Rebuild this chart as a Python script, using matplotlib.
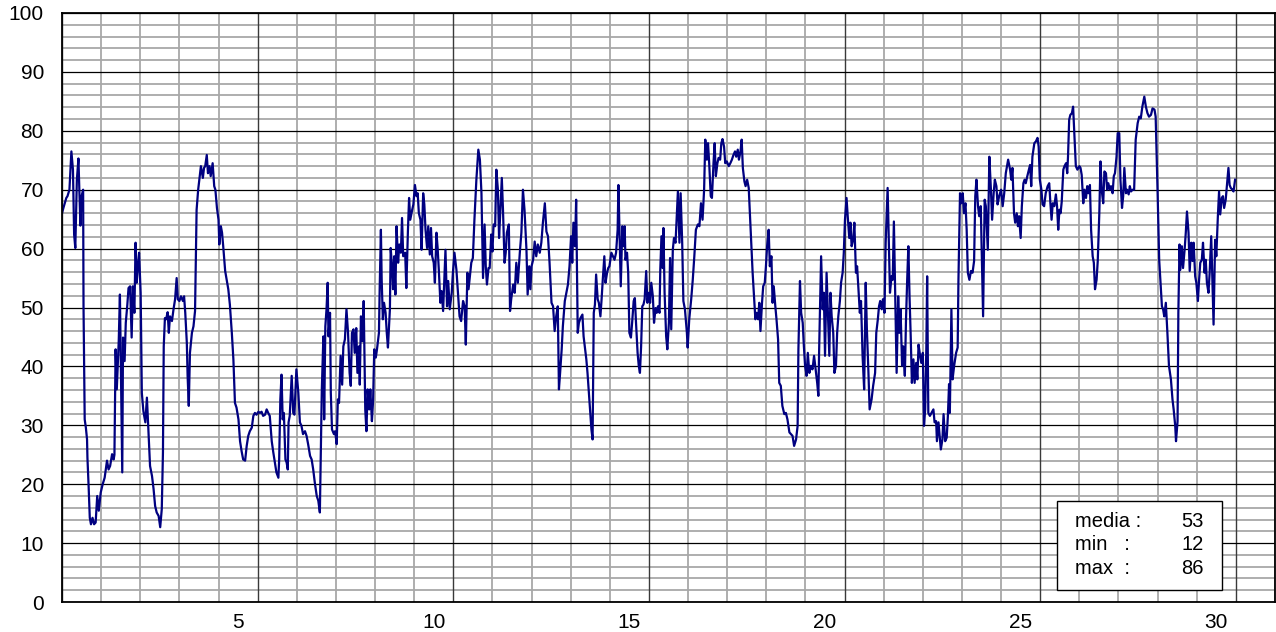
import numpy as np
import matplotlib.pyplot as plt
from matplotlib.patches import Rectangle

plt.rcParams['font.family'] = ['Liberation Sans', 'DejaVu Sans']

# readings (day, value), in three stretches
readings_a = [(0.00,66),(0.04,67),(0.11,68.6),(0.14,68.9),(0.19,70),(0.24,76.5),(0.28,73.4),(0.31,62.4),(0.34,60.1),(0.38,71.7),(0.42,75.3),(0.44,70.6),(0.47,63.9),(0.50,68.9),(0.54,70),(0.55,50.2),(0.58,31),(0.61,29.6),(0.64,27.6),(0.65,24.5),(0.68,19.7),(0.71,14.3),(0.74,13.2),(0.78,14.3),(0.82,13.2),(0.86,13.5),(0.90,18),(0.94,15.5),(0.99,18.6),(1.04,20),(1.09,21.1),(1.15,24),(1.19,22.5),(1.23,23.1),(1.28,25.1),(1.32,24.2),(1.34,25),(1.37,42.9),(1.40,36.1),(1.45,44.3),(1.48,52.2),(1.51,36.7),(1.54,22),(1.56,44.9),(1.60,40.9),(1.63,47.4),(1.67,50.5),(1.70,53.3),(1.74,53.6),(1.78,44.9),(1.81,53.6),(1.85,49.1),(1.88,61),(1.91,54.2),(1.94,57),(1.97,59.3),(2.01,52.5),(2.04,35.5),(2.08,32.4),(2.13,30.5),(2.17,34.7),(2.21,28.8),(2.25,23.1),(2.30,21.4),(2.34,19.2),(2.38,16.3),(2.42,15.2),(2.47,14.6),(2.51,12.7),(2.55,15.8),(2.58,25.4),(2.60,43.4),(2.63,48.2),(2.66,48),(2.70,49.2),(2.73,45.7),(2.76,48.5),(2.81,47.7),(2.85,49.7),(2.89,51.4),(2.93,55),(2.96,51.4),(3.00,51.1),(3.04,51.9),(3.09,51.1),(3.12,51.9),(3.15,49.1),(3.19,44),(3.21,38.4),(3.24,33.3),(3.27,42.3),(3.32,45.7),(3.36,46.8),(3.40,49.4),(3.44,66.6),(3.48,70),(3.51,71.7),(3.55,74),(3.60,72),(3.63,73.7),(3.66,74),(3.70,75.9),(3.73,72.8),(3.77,74),(3.80,72.3),(3.85,74.5),(3.89,70.6),(3.92,70),(3.96,66.9),(4.00,64.9),(4.02,60.7),(4.06,63.8),(4.09,62.7),(4.12,60.4),(4.17,56.2),(4.21,54.7),(4.25,53.1),(4.29,50.5),(4.34,45.7),(4.38,41.2),(4.42,33.8),(4.46,33),(4.51,31),(4.55,27.3),(4.59,25.6),(4.63,24.2),(4.68,24),(4.72,26.5),(4.76,28.2),(4.80,29),(4.85,29.6),(4.89,31.6),(4.93,32.1),(4.97,31.8),(5.02,32.3),(5.06,32.1),(5.10,32.3),(5.14,31.6),(5.19,31.8),(5.23,32.7),(5.27,32.1),(5.31,31.6),(5.36,27.3),(5.40,25.4),(5.44,23.7),(5.48,22),(5.53,21.1),(5.55,24.2),(5.58,34.4),(5.61,38.6),(5.64,31),(5.67,32.1),(5.71,24.2),(5.74,23.7),(5.77,22.5),(5.79,30.5),(5.82,31.6),(5.87,38.4),(5.91,32.1),(5.94,31.8),(5.99,39.5),(6.04,35.5),(6.08,30.5),(6.12,29.9),(6.16,28.5),(6.21,29),(6.25,28.2),(6.29,26.8),(6.34,24.8),(6.38,24.2),(6.42,22.5),(6.46,20.3),(6.51,18),(6.55,17.2),(6.59,15.2),(6.62,27.1),(6.64,36.1),(6.68,45.1),(6.70,31),(6.73,46.8),(6.76,49.7),(6.79,54.2),(6.81,45.1),(6.85,49.1),(6.87,35.5),(6.90,29.3),(6.95,28.5),(6.98,29),(7.02,26.8),(7.05,34.4),(7.08,33.8),(7.12,41.8),(7.16,36.9),(7.19,43.4),(7.23,44.6),(7.27,49.7),(7.31,45.7),(7.35,38.9),(7.38,36.7),(7.41,45.7),(7.45,46.3),(7.48,42.3),(7.52,46.5),(7.55,38.9),(7.59,43.4),(7.61,36.9),(7.64,48.5),(7.68,44.3),(7.71,51.1),(7.75,32.7),(7.78,29),(7.81,36.1),(7.85,32.7),(7.88,36.1),(7.92,30.7),(7.95,34.1),(7.98,42.9),(8.02,41.5),(8.05,42.9),(8.10,45.7),(8.12,53.6),(8.15,63.2),(8.17,54.7),(8.20,48),(8.23,50.8),(8.27,49.1),(8.30,45.7),(8.33,43.2),(8.38,49.7),(8.40,60.1),(8.44,56.4),(8.46,53.1),(8.49,58.7),(8.52,52.2),(8.55,63.8),(8.59,57.6),(8.62,60.7),(8.66,59.3),(8.69,65.2),(8.72,58.7),(8.77,59.3),(8.80,53.3),(8.84,62.9),(8.87,68.6),(8.90,64.9),(8.95,66.6),(8.98,67.5),(9.02,70.8),(9.06,68.9),(9.09,69.4),(9.12,66),(9.16,64.9),(9.19,59.8),(9.23,69.4),(9.26,67.5),(9.29,63.2),(9.33,60.1),(9.36,63.8),(9.40,59),(9.43,63.5),(9.46,58.7),(9.50,57.6),(9.53,54.2),(9.57,62.7),(9.60,60.1),(9.63,56.4),(9.67,50.8),(9.70,52.8),(9.74,49.4),(9.77,54.7),(9.80,59.8),(9.84,50.2),(9.87,54.5),(9.91,49.7),(9.96,52.5),(9.99,55.9),(10.03,59.3),(10.08,56.4),(10.12,52.5),(10.16,48.5),(10.20,47.7),(10.25,51.1),(10.29,50.2),(10.32,43.7),(10.36,55.9),(10.39,53.1),(10.43,55.6),(10.46,57.6),(10.50,58.4),(10.54,64.9),(10.59,71.7),(10.64,76.8)]

readings_b = [(10.68,75.1),(10.72,69.4),(10.76,55),(10.80,64.1),(10.83,57),(10.86,53.9),(10.90,56.7),(10.93,56.7),(10.97,62.4),(11.00,59.5),(11.03,64.1),(11.07,63.8),(11.10,73.4),(11.14,70),(11.17,61.8),(11.20,66),(11.24,72),(11.27,66.6),(11.31,57.6),(11.34,59.3),(11.37,62.7),(11.42,64.1),(11.45,49.4),(11.48,51.4),(11.53,53.9),(11.57,52.5),(11.61,57.6),(11.65,54.2),(11.70,59.3),(11.74,62.7),(11.78,70),(11.82,66.6),(11.87,59.8),(11.90,52.2),(11.94,57),(11.97,53.1),(12.00,57),(12.04,58.1),(12.08,61.2),(12.12,58.7),(12.16,60.7),(12.21,59.3),(12.25,61),(12.29,64.4),(12.34,67.7),(12.38,62.9),(12.42,62.1),(12.46,57.6),(12.51,50.8),(12.55,50.2),(12.59,46),(12.63,48.5),(12.67,50.2),(12.70,36.1),(12.73,38.9),(12.77,42.9),(12.80,46.8),(12.85,51.1),(12.89,52.5),(12.93,53.9),(12.97,57),(13.01,62.1),(13.04,57.6),(13.07,64.4),(13.11,60.4),(13.14,68.3),(13.18,45.7),(13.21,47.4),(13.25,48.2),(13.30,48.8),(13.33,45.1),(13.36,43.4),(13.40,41.2),(13.43,38.9),(13.47,35),(13.50,32.1),(13.53,29.3),(13.56,27.6),(13.59,49.1),(13.62,50.5),(13.65,55.6),(13.69,51.4),(13.72,50.8),(13.76,48.5),(13.79,51.4),(13.82,54.7),(13.86,58.7),(13.89,54.2),(13.93,55.9),(13.96,56.7),(13.99,57),(14.04,59.3),(14.08,58.7),(14.12,58.1),(14.16,59.3),(14.20,63.2),(14.22,70.8),(14.25,62.1),(14.28,53.6),(14.32,63.8),(14.35,60.4),(14.38,63.8),(14.40,58.1),(14.44,59.3),(14.47,55.9),(14.50,45.7),(14.54,44.9),(14.57,47.4),(14.61,51.1),(14.64,51.6),(14.67,47.4),(14.71,42.3),(14.74,40.1),(14.77,38.9),(14.80,43.4),(14.83,50.2),(14.86,50.5),(14.89,51.4),(14.93,56.2),(14.96,50.8),(15.00,52.5),(15.03,50.8),(15.06,54.2),(15.10,51.9),(15.13,47.4),(15.17,49.9),(15.20,49.1),(15.23,50.2),(15.27,49.1),(15.29,56.4),(15.32,62.1),(15.35,56.7),(15.37,63.5),(15.40,52.5),(15.44,45.1),(15.47,42.9),(15.51,47.4),(15.54,58.4),(15.57,46.3),(15.61,59.8),(15.64,61.8),(15.68,61),(15.71,65.5),(15.74,69.7),(15.78,61),(15.81,69.4),(15.85,61),(15.88,51.1),(15.92,49.7),(15.97,45.7),(15.99,43.2),(16.03,48),(16.08,51.4),(16.12,54.7),(16.16,58.7),(16.20,63.2),(16.25,64.1),(16.29,63.8),(16.33,67.7),(16.37,64.9),(16.41,70),(16.44,78.5),(16.48,75.1),(16.51,77.9),(16.54,74.5),(16.58,68.9),(16.61,68.6),(16.65,74.5),(16.68,77.9),(16.71,72.3),(16.75,74.5),(16.78,75.4),(16.82,75.1),(16.85,77.9),(16.88,78.6),(16.92,77.3),(16.95,74.5),(16.99,74.8),(17.04,74),(17.08,74.5),(17.12,75.1),(17.16,75.9),(17.20,76.5),(17.23,75.6),(17.27,76.8),(17.30,75.1),(17.34,76.5),(17.37,78.5),(17.40,73.7),(17.44,71.4),(17.47,70.6),(17.51,71.7),(17.55,70.3),(17.58,66),(17.62,60.4),(17.65,55.9),(17.68,52.5),(17.72,48),(17.75,49.1),(17.79,48),(17.82,50.8),(17.85,46),(17.89,50.8),(17.92,53.6),(17.96,54.2),(17.99,57),(18.02,60.4),(18.06,63.2),(18.09,57),(18.13,58.7),(18.16,50.8),(18.19,53.6),(18.23,50.2),(18.26,48),(18.30,44.6),(18.33,37.2),(18.37,36.7),(18.41,33.3),(18.46,31.9),(18.50,32.1),(18.54,31),(18.59,28.8),(18.63,28.5),(18.67,28.2),(18.71,26.5),(18.76,27.6),(18.80,29.9),(18.82,42.9),(18.86,54.5),(18.89,49.1),(18.93,47.4),(18.96,43.4),(18.99,40.1),(19.03,38.4),(19.06,42.3),(19.10,38.9),(19.14,40.1),(19.18,39.5),(19.22,41.8),(19.27,38.9),(19.30,37.2),(19.33,35),(19.35,42.9),(19.38,52.5),(19.40,58.7),(19.44,49.7),(19.47,52.5),(19.50,41.8),(19.54,55.9),(19.57,49.7),(19.61,41.8),(19.64,52.5),(19.67,48.5),(19.71,45.7),(19.74,38.9),(19.78,40.1),(19.81,45.7),(19.84,48.5),(19.88,51.1),(19.91,54.2),(19.95,55.9),(19.98,59.3),(20.01,64.9),(20.05,68.6),(20.08,65.5),(20.12,61.8),(20.15,64.4),(20.18,60.4),(20.22,61.5),(20.25,64.4),(20.29,55.9),(20.32,57),(20.35,53.6),(20.39,49.1),(20.42,51.1),(20.46,41.8),(20.50,36.1),(20.54,54.2),(20.57,46.3),(20.61,38.9),(20.64,32.7),(20.69,34.4),(20.73,36.7),(20.78,38.9),(20.81,45.7),(20.85,48),(20.88,50.2),(20.91,51.1),(20.95,49.7),(20.98,51.4),(21.02,49.1),(21.05,61),(21.10,70.3)]

readings_c = [(21.16,52.5),(21.20,55.3),(21.23,54.7),(21.26,64.6),(21.30,50.2),(21.33,38.9),(21.37,51.9),(21.40,45.7),(21.43,49.7),(21.47,40.1),(21.50,43.4),(21.54,38.4),(21.57,48),(21.60,54.7),(21.63,60.4),(21.66,51.9),(21.69,45.1),(21.72,37.2),(21.76,41.2),(21.79,37.2),(21.83,40.6),(21.86,37.8),(21.89,43.7),(21.93,41.8),(21.96,40.6),(22.00,42.3),(22.03,29.9),(22.06,32.7),(22.09,43.4),(22.11,55.3),(22.14,32.1),(22.18,31.6),(22.22,32.1),(22.27,32.7),(22.30,30.5),(22.34,30.7),(22.36,27.3),(22.40,30.5),(22.43,28.2),(22.46,25.9),(22.50,27.6),(22.53,31.9),(22.57,27.3),(22.61,27.9),(22.64,31.6),(22.67,37),(22.69,32.1),(22.73,49.7),(22.76,37.8),(22.80,40.1),(22.85,42.3),(22.89,43.2),(22.91,54.7),(22.95,69.4),(22.98,67.7),(23.02,69.4),(23.05,66),(23.09,67.7),(23.12,63.2),(23.15,55.9),(23.19,54.7),(23.23,56.2),(23.27,55.9),(23.31,57.9),(23.34,68.9),(23.37,71.7),(23.41,67.2),(23.44,65.5),(23.48,67.2),(23.51,58.1),(23.54,48.5),(23.58,68.3),(23.61,67.2),(23.66,59.8),(23.70,75.6),(23.74,70),(23.77,64.9),(23.81,69.4),(23.84,71.7),(23.88,70.6),(23.91,67.5),(23.95,68.9),(24.00,70),(24.04,67.2),(24.08,69.4),(24.12,72.8),(24.18,75.1),(24.23,73.4),(24.26,71.7),(24.29,73.7),(24.33,66),(24.36,64.4),(24.40,66),(24.43,63.8),(24.46,65.5),(24.50,61.8),(24.53,67.2),(24.57,71.1),(24.60,71.7),(24.63,71.1),(24.67,72.3),(24.70,73.1),(24.74,74.2),(24.77,70.6),(24.80,75.6),(24.85,77.9),(24.89,78.2),(24.93,78.8),(24.96,77.3),(24.99,71.7),(25.03,70),(25.06,67.5),(25.10,67.2),(25.14,69.4),(25.19,70.6),(25.23,71.1),(25.26,67.7),(25.29,64.9),(25.32,67.7),(25.36,67.2),(25.40,69.2),(25.43,67.2),(25.46,63.2),(25.49,66.6),(25.52,66),(25.55,68),(25.59,73.4),(25.62,74),(25.66,74.5),(25.69,72.8),(25.71,75.6),(25.74,81.9),(25.77,82.7),(25.81,83),(25.84,84.1),(25.88,78.5),(25.91,74),(25.95,73.4),(26.00,74),(26.03,73.7),(26.06,72.5),(26.10,67.7),(26.13,70),(26.17,68.6),(26.20,70.6),(26.23,69.4),(26.27,70.8),(26.30,63.2),(26.34,58.7),(26.37,57.6),(26.40,53.1),(26.44,54.7),(26.47,57.9),(26.51,66),(26.54,74.8),(26.57,70),(26.61,67.7),(26.64,73.1),(26.68,72.8),(26.71,70),(26.74,71.1),(26.78,70),(26.81,70.6),(26.85,69.4),(26.88,72.3),(26.91,72.8),(26.95,75.6),(26.98,79.6),(27.02,79.6),(27.05,71.7),(27.09,66.9),(27.12,68.9),(27.15,73.7),(27.19,69.4),(27.22,70),(27.26,69.2),(27.29,70.6),(27.32,69.7),(27.36,70),(27.40,70),(27.44,78.5),(27.49,81.3),(27.53,82.4),(27.57,82.1),(27.61,84.1),(27.66,85.8),(27.70,84.1),(27.74,83),(27.78,82.4),(27.83,82.7),(27.87,83.8),(27.92,83.6),(27.95,82.4),(28.00,69.4),(28.04,58.1),(28.07,54.7),(28.11,50.2),(28.14,49.7),(28.17,48.5),(28.21,50.8),(28.25,45.7),(28.29,40.1),(28.34,37.8),(28.38,34.4),(28.41,32.7),(28.45,29.9),(28.47,27.3),(28.51,30.7),(28.53,49.1),(28.56,60.7),(28.58,56.4),(28.62,60.4),(28.65,56.7),(28.69,59.8),(28.72,62.7),(28.75,66.3),(28.79,62.7),(28.82,56.2),(28.86,61),(28.89,57.9),(28.92,61),(28.96,55.3),(28.99,54.2),(29.03,51.1),(29.06,54.7),(29.09,57.6),(29.13,58.1),(29.16,61),(29.20,55.9),(29.23,58.1),(29.26,54.2),(29.30,52.5),(29.33,55.9),(29.37,62.1),(29.40,54.7),(29.43,47.1),(29.47,61.5),(29.50,58.7),(29.54,65.5),(29.57,69.7),(29.60,65.8),(29.64,68.6),(29.67,68.9),(29.70,66.9),(29.74,68.3),(29.77,70.6),(29.81,73.7),(29.84,70.8),(29.87,70.3),(29.91,70),(29.94,69.7),(29.98,71.7)]

x_labels = ['5', '10', '15', '20', '25', '30']
stat_names = ['media :', 'min   :', 'max  :']
stat_values = [53, 12, 86]

days, values = zip(*(readings_a + readings_b + readings_c))

fig = plt.figure(figsize=(12.76, 6.32), dpi=100)
ax = fig.add_axes([62 / 1276, 30 / 632, 1213 / 1276, 589 / 632])

# grid: thin gray every day / every 2 units, darker every 5 days / 10 units
for d in range(0, 32):
    if d % 5 == 0:
        ax.axvline(d, color='#3a3a3a', lw=1.0, zorder=1)
    else:
        ax.axvline(d, color='#a8a8a8', lw=1.3, zorder=0)
for v in range(0, 101, 2):
    if v % 10 == 0:
        ax.axhline(v, color='black', lw=0.9, zorder=1)
    else:
        ax.axhline(v, color='#a8a8a8', lw=1.3, zorder=0)

ax.plot(days, values, color='#000080', lw=1.6, zorder=3)

ax.set_xlim(0, 31)
ax.set_ylim(0, 100)
ax.set_yticks(range(0, 101, 10))
ax.set_xticks([int(l) - 0.5 for l in x_labels])
ax.set_xticklabels(x_labels)
ax.tick_params(axis='both', length=0, labelsize=15)
ax.tick_params(axis='y', pad=13)
ax.tick_params(axis='x', pad=8)
for s in ax.spines.values():
    s.set_linewidth(1.3)
    s.set_zorder(4)

# summary box
ax.add_patch(Rectangle((0.820, 0.0204), 0.136, 0.151, transform=ax.transAxes,
                       facecolor='white', edgecolor='black', lw=1.0, zorder=5))
rows_y = [0.1375, 0.0968, 0.0577]
for name, val, y in zip(stat_names, stat_values, rows_y):
    ax.text(0.835, y, name, transform=ax.transAxes, fontsize=14.5, va='center', ha='left', zorder=6)
    ax.text(0.941, y, str(val), transform=ax.transAxes, fontsize=14.5, va='center', ha='right', zorder=6)

fig.savefig('out.png', dpi=100)
